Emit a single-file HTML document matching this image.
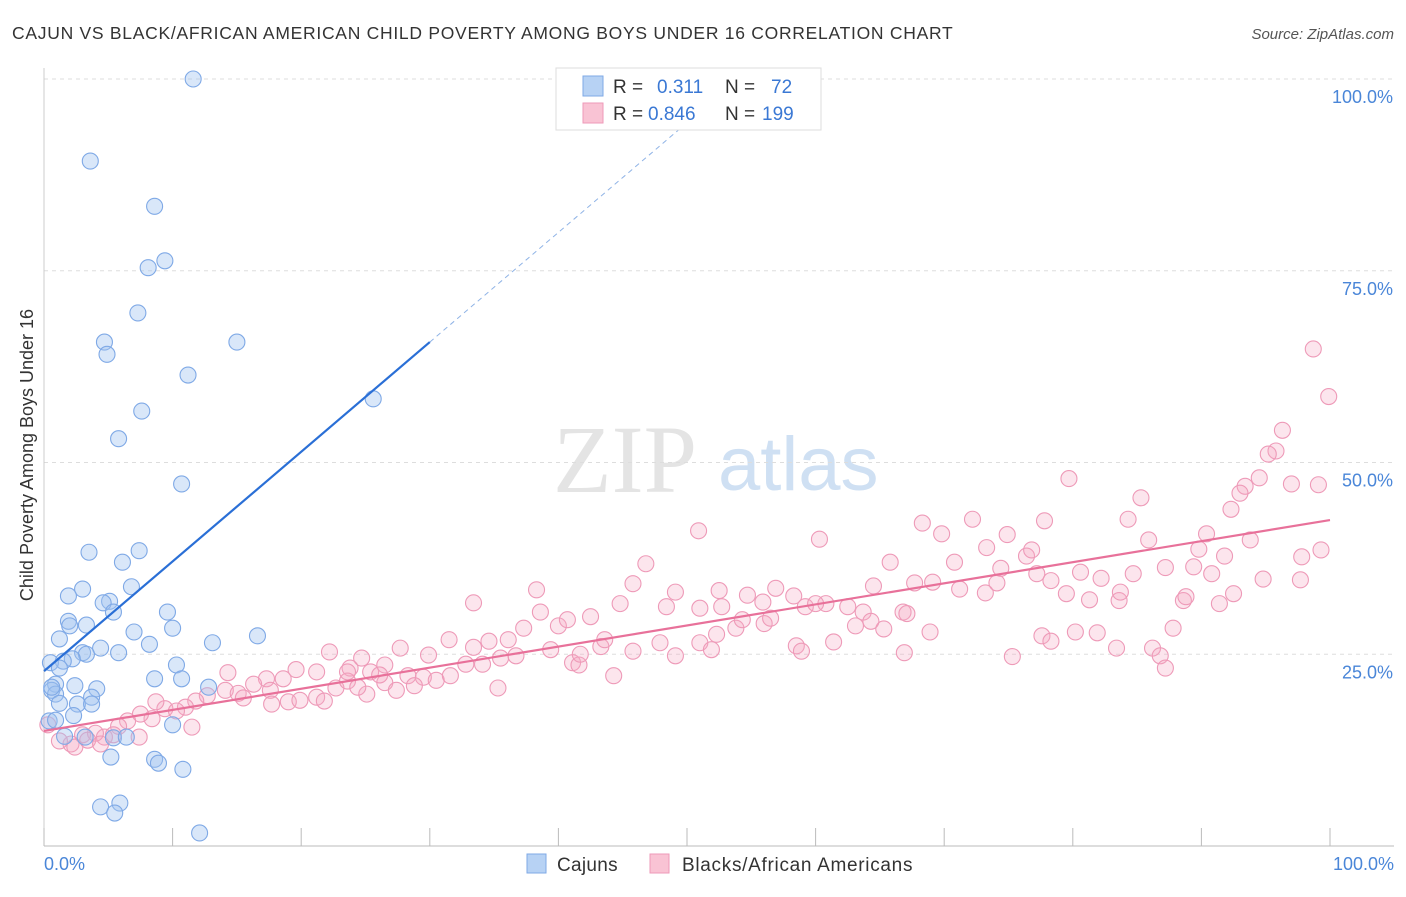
<!DOCTYPE html>
<html><head><meta charset="utf-8"><style>
html,body{margin:0;padding:0;background:#fff;}
body{width:1406px;height:892px;overflow:hidden;font-family:"Liberation Sans",sans-serif;}
</style></head><body>
<svg id="chart" width="1406" height="892" xmlns="http://www.w3.org/2000/svg">
<text x="12" y="39" font-size="17.5" fill="#333" letter-spacing="0.72">CAJUN VS BLACK/AFRICAN AMERICAN CHILD POVERTY AMONG BOYS UNDER 16 CORRELATION CHART</text>
<text x="1394" y="39" font-size="15" fill="#555" font-style="italic" text-anchor="end">Source: ZipAtlas.com</text>
<g>
<text x="553" y="492" font-size="96" font-family="Liberation Serif,serif" fill="#e4e4e4">ZIP</text>
<text x="718" y="490" font-size="76" fill="#cfe0f3">atlas</text>
</g>
<g id="grid"></g>
<g id="axes"></g>
<g id="pinkPts"></g>
<g id="bluePts"></g>
<g id="lines"></g>
<text transform="translate(33,455) rotate(-90)" font-size="18" fill="#333" text-anchor="middle">Child Poverty Among Boys Under 16</text>
<text x="44" y="870" font-size="18" fill="#4a86d8">0.0%</text>
<text x="1394" y="870" font-size="18" fill="#4a86d8" text-anchor="end">100.0%</text>
<g>
<rect x="556" y="68" width="265" height="62" fill="#fff" stroke="#ddd"/>
<rect x="583" y="76" width="20" height="20" fill="#b7d2f4" stroke="#7fa9e6"/>
<rect x="583" y="103" width="20" height="20" fill="#f9c3d4" stroke="#ee9ab8"/>
<text x="613" y="93" font-size="19" fill="#333">R =</text>
<text x="657" y="93" font-size="19" fill="#3a78d4">0.311</text>
<text x="725" y="93" font-size="19" fill="#333">N =</text>
<text x="771" y="93" font-size="19" fill="#3a78d4">72</text>
<text x="613" y="120" font-size="19" fill="#333">R =</text>
<text x="648" y="120" font-size="19" fill="#3a78d4">0.846</text>
<text x="725" y="120" font-size="19" fill="#333">N =</text>
<text x="762" y="120" font-size="19" fill="#3a78d4">199</text>
</g>
<g>
<rect x="527" y="854" width="19" height="19" fill="#b7d2f4" stroke="#7fa9e6"/>
<text x="557" y="871" font-size="19" fill="#333" letter-spacing="0.3">Cajuns</text>
<rect x="650" y="854" width="19" height="19" fill="#f9c3d4" stroke="#ee9ab8"/>
<text x="682" y="871" font-size="19" fill="#333" letter-spacing="0.7">Blacks/African Americans</text>
</g>
</svg>
<script>
const yTicks=[25,50,75,100];
const yTickLabels=["25.0%","50.0%","75.0%","100.0%"];
const xTicks=[0,10,20,30,40,50,60,70,80,90,100];
const cajunX=[11.6,3.6,8.6,8.1,9.4,7.3,4.7,4.9,15.0,11.2,7.6,25.6,5.8,10.7,3.5,7.4,6.1,6.8,3.0,1.9,5.1,4.6,5.4,9.6,1.9,2.0,3.3,10.0,7.0,1.2,8.2,13.1,16.6,4.4,5.8,3.0,3.3,2.2,1.5,0.5,10.3,1.2,8.6,10.7,0.9,2.4,0.6,4.1,12.8,0.9,3.7,1.2,2.6,3.7,0.4,2.3,10.0,1.6,5.4,6.4,3.2,5.2,8.6,8.9,10.8,4.4,5.9,5.5,12.1,0.9,0.6];
const cajunY=[100.0,89.3,83.4,75.4,76.3,69.5,65.7,64.1,65.7,61.4,56.7,58.3,53.1,47.2,38.3,38.5,37.0,33.8,33.5,32.6,31.9,31.7,30.5,30.5,29.3,28.7,28.8,28.4,27.9,27.0,26.3,26.5,27.4,25.8,25.2,25.2,25.0,24.4,24.1,23.9,23.6,23.2,21.8,21.8,21.1,20.9,20.3,20.5,20.7,19.8,19.4,18.6,18.5,18.5,16.3,17.0,15.8,14.3,14.1,14.2,14.2,11.6,11.3,10.8,10.0,5.1,5.6,4.3,1.7,16.4,20.7];
const blackX=[98.7,99.9,96.3,95.8,95.2,94.5,93.4,93.0,92.3,79.7,85.3,97.0,99.1,50.9,60.3,68.3,69.8,72.2,77.8,84.3,85.9,90.4,93.8,99.3,97.8,74.9,73.3,76.4,76.8,70.8,65.8,46.8,80.6,82.2,84.7,90.8,89.8,89.4,87.2,91.8,94.8,33.4,38.3,38.6,45.8,49.1,51.0,52.5,54.7,55.9,58.3,56.9,59.2,60.8,62.5,64.5,66.8,67.7,69.1,71.2,73.2,74.1,78.3,79.5,81.3,83.6,83.7,88.6,91.4,97.7,92.5,74.4,77.2,48.4,44.8,42.5,40.0,40.7,37.3,36.1,34.6,33.4,31.5,29.9,27.7,26.5,24.7,23.8,25.4,22.2,21.2,19.6,18.6,17.3,16.3,17.6,14.3,14.1,12.7,11.8,11.0,9.4,8.7,10.3,8.4,7.5,6.5,5.8,4.7,4.0,3.0,2.1,1.2,0.3,2.4,3.4,7.4,4.4,5.4,11.5,15.1,15.5,17.7,19.0,19.9,21.2,22.7,23.6,25.1,26.5,28.3,29.5,30.5,31.6,32.8,34.1,35.5,36.7,39.4,41.1,41.6,43.3,44.3,45.8,47.9,49.1,51.0,51.9,52.3,53.8,56.0,58.5,58.9,61.4,63.1,65.3,63.7,67.1,68.9,66.9,75.3,77.6,78.3,80.2,81.9,83.4,86.2,86.8,87.2,87.8,88.8,35.3,28.8,27.4,24.4,21.8,23.6,26.1,43.6,41.7,52.7,54.3,56.5,60.0,64.3];
const blackY=[64.8,58.6,54.2,51.5,51.1,48.0,46.9,46.0,43.9,47.9,45.4,47.2,47.1,41.1,40.0,42.1,40.7,42.6,42.4,42.6,39.9,40.7,39.9,38.6,37.7,40.6,38.9,37.8,38.6,37.0,37.0,36.8,35.7,34.9,35.5,35.5,38.7,36.4,36.3,37.8,34.8,31.7,33.4,30.5,34.2,33.1,31.0,33.3,32.7,31.8,32.6,33.6,31.2,31.6,31.2,33.9,30.5,34.3,34.4,33.5,33.0,34.3,34.6,32.9,32.1,32.0,33.1,32.0,31.6,34.7,32.9,36.2,35.5,31.2,31.6,29.9,28.7,29.5,28.4,26.9,26.7,25.9,26.9,24.9,25.8,23.6,24.5,23.2,22.7,25.3,22.7,23.0,21.8,21.8,21.1,20.3,22.6,20.3,19.6,18.9,18.1,17.9,18.8,17.6,16.6,17.2,16.3,15.6,14.2,14.7,14.5,13.3,13.7,15.8,12.9,13.8,14.2,13.3,14.5,15.5,19.9,19.3,18.5,18.8,19.0,19.4,20.6,21.5,19.8,21.3,22.2,22.0,21.6,22.2,23.7,23.7,24.5,24.8,25.6,23.9,23.6,26.0,22.2,25.4,26.5,24.8,26.5,25.6,27.6,28.4,29.0,26.1,25.4,26.6,28.7,28.3,30.5,30.3,27.9,25.2,24.7,27.4,26.7,27.9,27.8,25.8,25.8,24.8,23.2,28.4,32.5,20.6,20.9,20.3,20.7,18.9,22.7,22.3,26.9,25.0,31.2,29.5,29.7,31.6,29.3];
const cajunFit=[22.8,1.43];
const blackFit=[15.0,0.275];
const NS='http://www.w3.org/2000/svg';
const X0=44,X1=1330,Y0=846,Y100=79;
function sx(v){return X0+(X1-X0)*v/100;}
function sy(v){return Y0-(Y0-Y100)*v/100;}
function mk(tag,attrs,parent){const e=document.createElementNS(NS,tag);for(const k in attrs)e.setAttribute(k,attrs[k]);parent.appendChild(e);return e;}
const grid=document.getElementById('grid'),axes=document.getElementById('axes');
yTicks.forEach((t,i)=>{
  const l=mk('line',{x1:44,x2:1394,y1:sy(t),y2:sy(t),stroke:'#ddd','stroke-dasharray':'4,4'},grid);
  
  
  const tx=mk('text',{x:1393,y:sy(t)+24,'font-size':18,fill:'#4a86d8','text-anchor':'end'},axes);
  tx.textContent=yTickLabels[i];
  
  
});
const ax=mk('line',{x1:44,x2:1394,y1:Y0,y2:Y0,stroke:'#bbb'},axes);


const ay=mk('line',{x1:44,x2:44,y1:68,y2:Y0,stroke:'#ccc'},axes);


xTicks.forEach(t=>{
  const l=mk('line',{x1:sx(t),x2:sx(t),y1:Y0,y2:Y0-18,stroke:'#bbb'},axes);
  
  
});
const pg=document.getElementById('pinkPts');
blackX.forEach((x,i)=>{
  const c=mk('circle',{cx:sx(x),cy:sy(blackY[i]),r:8,fill:'rgba(245,170,195,0.3)',stroke:'#ee9ab8','stroke-width':1.1},pg);
  
  
});
const bg=document.getElementById('bluePts');
cajunX.forEach((x,i)=>{
  const c=mk('circle',{cx:sx(x),cy:sy(cajunY[i]),r:8,fill:'rgba(160,195,240,0.4)',stroke:'#7fa9e6','stroke-width':1.1},bg);
  
  
});
const lg=document.getElementById('lines');
const xEndSolid=30, xEndDash=(100-cajunFit[0])/cajunFit[1];
const bl=mk('line',{x1:sx(0),y1:sy(cajunFit[0]),x2:sx(xEndSolid),y2:sy(cajunFit[0]+cajunFit[1]*xEndSolid),stroke:'#2a6fd6','stroke-width':2.2},lg);


const bd=mk('line',{x1:sx(xEndSolid),y1:sy(cajunFit[0]+cajunFit[1]*xEndSolid),x2:sx(xEndDash),y2:sy(100),stroke:'#8fb3e6','stroke-width':1,'stroke-dasharray':'5,4'},lg);


const pl=mk('line',{x1:sx(0),y1:sy(blackFit[0]),x2:sx(100),y2:sy(blackFit[0]+blackFit[1]*100),stroke:'#e8719a','stroke-width':2.2},lg);


</script>
</body></html>
